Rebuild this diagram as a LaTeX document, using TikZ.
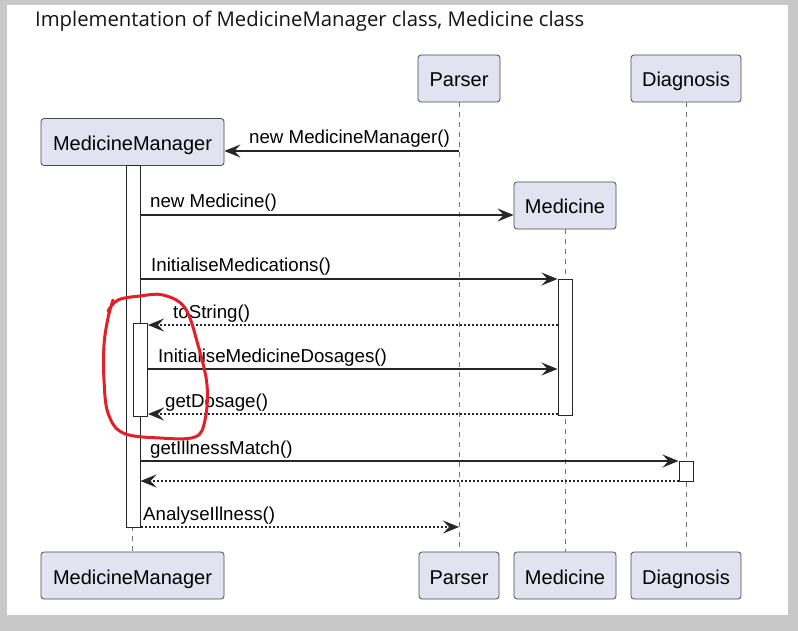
\documentclass[tikz,border=0pt]{standalone}
\usepackage{fontspec}
\setmainfont{Liberation Sans}
\newfontfamily\titlefont{Open Sans}
\usetikzlibrary{arrows.meta}
\definecolor{partfill}{HTML}{E2E2F0}
\definecolor{partline}{HTML}{4A4A4A}
\definecolor{framegray}{HTML}{C8C8C8}
\definecolor{penred}{HTML}{E3202A}
\tikzset{
  part/.style={draw=partline, fill=partfill, rounded corners=3pt, line width=0.8pt, minimum height=47pt, inner sep=0pt, text height=17pt, text depth=0pt, font=\fontsize{20}{24}\selectfont},
  act/.style={draw=black!85, fill=white, line width=1pt, minimum width=14pt, inner sep=0pt},
  life/.style={draw=black!55, line width=1pt, dash pattern=on 5pt off 5pt},
  msg/.style={draw=black!85, line width=1.5pt, -{Stealth[length=16pt,width=13pt,inset=6pt]}},
  ret/.style={msg, dash pattern=on 2pt off 2pt},
  lbl/.style={anchor=base west, inner sep=0pt, font=\fontsize{18.7}{22}\selectfont}
}
\begin{document}
\begin{tikzpicture}[x=1pt,y=-1pt]
\fill[framegray] (0,0) rectangle (798,631);
\fill[white] (7,5) rectangle (788,615);
\node[anchor=base west, inner sep=0pt, font=\titlefont\fontsize{20.3}{24}\selectfont, text=black!92] (title) at (35,27) {Implementation of MedicineManager class, Medicine class};

\node[part, minimum width=183pt] (mmTop) at (132.5,142) {MedicineManager};
\node[part, minimum width=82pt] (parTop) at (459,78.5) {Parser};
\node[part, minimum width=110pt] (diagTop) at (686,78.5) {Diagnosis};
\node[part, minimum width=102pt] (medTop) at (565,205.5) {Medicine};
\node[part, minimum width=183pt] (mmBot) at (132.5,575.5) {MedicineManager};
\node[part, minimum width=80pt] (parBot) at (459,575.5) {Parser};
\node[part, minimum width=102pt] (medBot) at (565,575.5) {Medicine};
\node[part, minimum width=110pt] (diagBot) at (686,575.5) {Diagnosis};

\draw[life] (mmTop) -- (mmBot);
\draw[life] (parTop) -- (parBot);
\draw[life] (medTop) -- (medBot);
\draw[life] (diagTop) -- (diagBot);

\node[act, minimum height=361pt] (mma) at (133,346.5) {};
\node[act, minimum height=136pt] (meda) at (565,347) {};
\node[act, minimum height=93pt] (mmb) at (140.5,369.5) {};
\node[act, minimum height=20pt] (diaga) at (686,471) {};

\coordinate (r1) at (0,151);
\coordinate (r2) at (0,215);
\coordinate (r3) at (0,279);
\coordinate (r4) at (0,325);
\coordinate (r5) at (0,369);
\coordinate (r6) at (0,414);
\coordinate (r7) at (0,461);
\coordinate (r8) at (0,481);
\coordinate (r9) at (0,527);

\draw[msg] (parTop |- r1) -- (mmTop.east |- r1);
\draw[msg] (mma.east |- r2) -- (medTop.west |- r2);
\draw[msg] (mma.east |- r3) -- (meda.west |- r3);
\draw[ret] (meda.west |- r4) -- (mmb.east |- r4);
\draw[msg] (mmb.east |- r5) -- (meda.west |- r5);
\draw[ret] (meda.west |- r6) -- (mmb.east |- r6);
\draw[msg] (mma.east |- r7) -- (diaga.west |- r7);
\draw[ret] (diaga.west |- r8) -- (mma.east |- r8);
\draw[ret] (mma.east |- r9) -- (parBot |- r9);

\node[lbl] (lNewMM) at (249,144) {new MedicineManager()};
\node[lbl] (lNewMed) at (150,208) {new Medicine()};
\node[lbl] (lInitMed) at (151,272) {InitialiseMedications()};
\node[lbl] (lToStr) at (173,318) {toString()};
\node[lbl] (lInitDos) at (158,362) {InitialiseMedicineDosages()};
\node[lbl] (lGetDos) at (165,407) {getDosage()};
\node[lbl] (lIllMatch) at (150,454) {getIllnessMatch()};
\node[lbl] (lAnalyse) at (143,520) {AnalyseIllness()};

\draw[penred, line width=3pt, line cap=round, line join=round] plot[smooth, tension=0.6] coordinates {(108,311) (118,300) (140,296) (163,295) (185,308) (198,345) (207,385) (205,420) (195,437) (160,438) (123,433) (108,413) (104,380) (104,345) (108,318) (113,300)};
\end{tikzpicture}
\end{document}
